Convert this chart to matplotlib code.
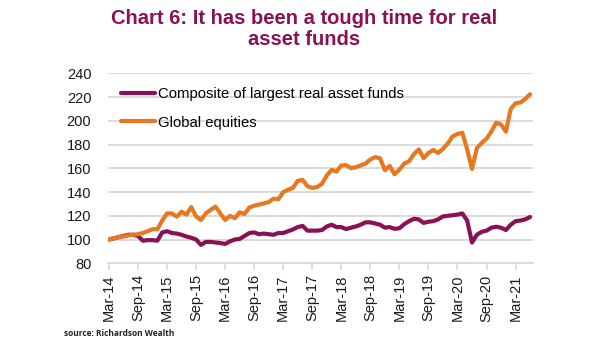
import matplotlib
matplotlib.use("Agg")
import matplotlib.pyplot as plt

plt.rcParams['font.family'] = ['Liberation Sans', 'DejaVu Sans']

tick_labels = ["Mar-14", "Sep-14", "Mar-15", "Sep-15", "Mar-16", "Sep-16", "Mar-17",
               "Sep-17", "Mar-18", "Sep-18", "Mar-19", "Sep-19", "Mar-20", "Sep-20", "Mar-21"]

real_asset = [100, 101, 102, 103, 104, 104, 103, 99, 99.5, 99.5,
              99, 106, 107, 105.5, 105, 104, 102.5, 101.5, 100, 95.5,
              98, 98, 97.5, 97, 96.3, 98.5, 100, 100.5, 103, 105.5,
              106, 104.5, 105, 104.5, 104, 105.5, 105.5, 107, 108.5, 110.5,
              111.5, 107.5, 107.5, 107.5, 108, 111, 112.5, 110.5, 110.5, 108.8,
              110, 111, 112.5, 114.5, 114.5, 113.5, 112.5, 110, 110.5, 109,
              109.5, 113, 115.5, 117.5, 117, 114, 115, 115.5, 117, 119.5,
              120, 120.5, 121, 122, 116, 97.5, 104, 106.5, 107.5, 110,
              110.8, 110, 108, 112.5, 115.5, 116, 117, 119]

global_eq = [100, 101, 102, 102.5, 103.5, 104, 104.5, 105.5, 107, 108.7,
             108.7, 116, 122, 122, 119.3, 123.5, 121, 127.3, 119.5, 116.5,
             122, 125, 127.8, 122, 116.5, 120, 118, 123, 121.5, 127,
             128.5, 129.5, 130.5, 131.5, 134.5, 134, 140, 142, 143.5, 149.5,
             150.3, 145, 143.5, 144.3, 147, 154, 158.7, 157.3, 162.5, 162.7,
             160.2, 161, 162.5, 164, 167.5, 169.5, 168.5, 158.5, 162, 155,
             159, 164, 166, 172, 176, 168.5, 173, 175.5, 173, 176.5,
             181, 187, 189, 190, 176, 159.5, 177, 181.5, 185, 191,
             198.5, 197, 191, 210, 215, 215.5, 218.5, 222.5]

PURPLE = '#8A1155'
ORANGE = '#E87722'

fig = plt.figure(figsize=(6.05, 3.41), dpi=100)
ax = fig.add_axes([0.1785, 0.228, 0.7025, 0.5565])

months = list(range(len(global_eq)))
ax.plot(months, real_asset, color=PURPLE, lw=3.0, solid_capstyle='round',
        solid_joinstyle='round', label='Composite of largest real asset funds', zorder=3)
ax.plot(months, global_eq, color=ORANGE, lw=3.0, solid_capstyle='round',
        solid_joinstyle='round', label='Global equities', zorder=3)

ax.set_ylim(80, 240)
ax.set_yticks(range(80, 241, 20))
ax.set_xlim(-0.2, 87.6)
ax.set_xticks([6 * i for i in range(len(tick_labels))])
ax.set_xticklabels(tick_labels, rotation=90)

ax.grid(axis='y', color='#D9D9D9', lw=1.3, zorder=0)
for s in ['top', 'right', 'left']:
    ax.spines[s].set_visible(False)
ax.spines['bottom'].set_color('#D9D9D9')
ax.spines['bottom'].set_linewidth(1.3)
ax.tick_params(axis='y', length=0, labelsize=10.5, pad=12, labelcolor='#1a1a1a')
ax.tick_params(axis='x', length=5, width=1.2, color='#D9D9D9', labelsize=10.5,
               pad=3, labelcolor='#1a1a1a')

leg = ax.legend(loc='upper left', frameon=False, fontsize=10.7, handlelength=2.35,
                handletextpad=0.2, borderaxespad=0.3, labelspacing=1.0,
                bbox_to_anchor=(0.005, 0.985))

fig.text(0.503, 0.975, 'Chart 6: It has been a tough time for real\nasset funds',
         ha='center', va='top', color=PURPLE, fontsize=14.5, fontweight='bold',
         linespacing=1.15)
fig.text(0.105, 0.008, 'source: Richardson Wealth', ha='left', va='bottom',
         fontsize=6, fontweight='bold', color='#222222', family=['Open Sans', 'DejaVu Sans'])

fig.savefig('out.png', dpi=100)
